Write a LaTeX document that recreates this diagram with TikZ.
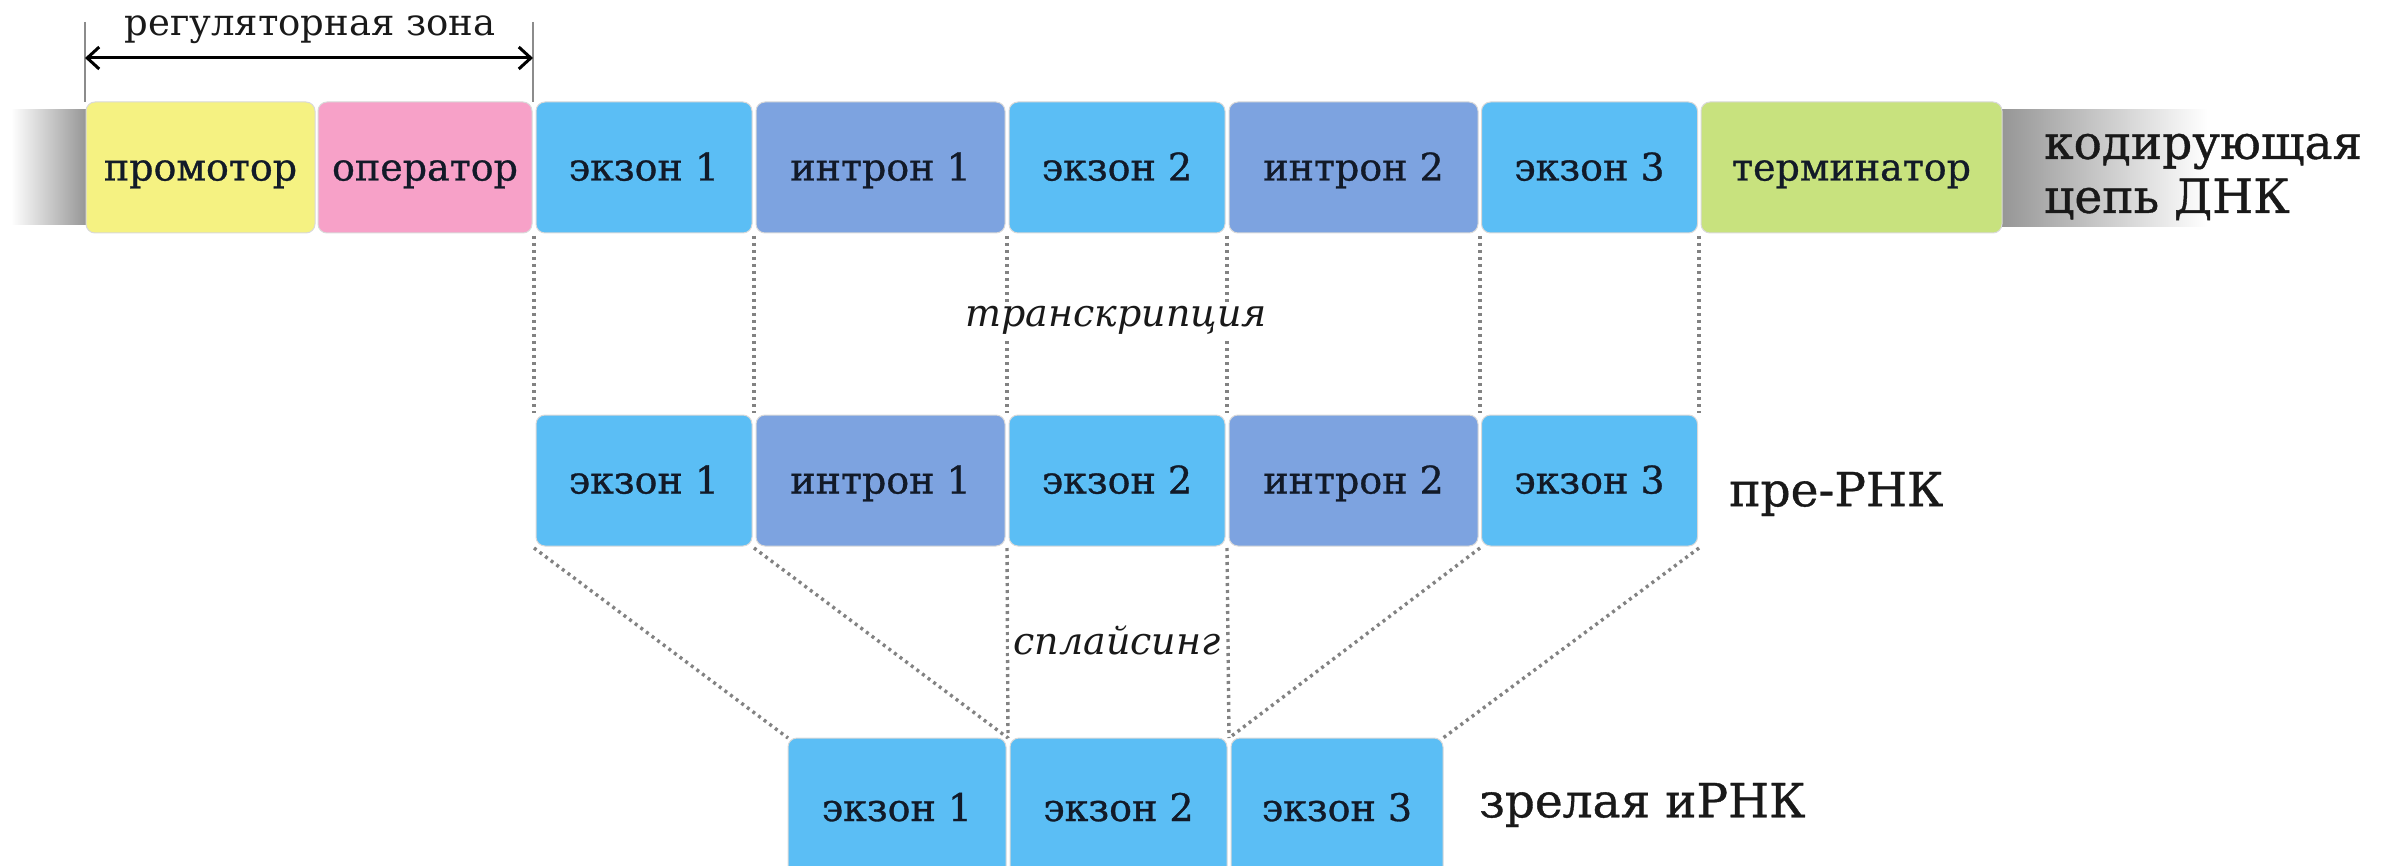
\documentclass[tikz,border=0pt]{standalone}
\usepackage{fontspec}
\setmainfont{DejaVu Serif}
\newfontfamily\heavyserif[FakeBold=0.8]{DejaVu Serif}
\usetikzlibrary{arrows.meta,calc}
\definecolor{promc}{RGB}{245,242,130}
\definecolor{operc}{RGB}{247,161,200}
\definecolor{exonc}{RGB}{91,190,245}
\definecolor{intronc}{RGB}{125,163,224}
\definecolor{termc}{RGB}{200,226,126}
\definecolor{boxtext}{RGB}{18,26,40}
\definecolor{labeltext}{RGB}{25,25,25}
\definecolor{dotc}{RGB}{130,130,130}
\definecolor{chaing}{RGB}{150,150,150}
\tikzset{
  seg/.style={draw=black!15, line width=1pt, rounded corners=9pt, inner sep=0pt, outer sep=0pt,
    minimum height=131pt, text=boxtext, font=\heavyserif\fontsize{38}{44}\selectfont,
    text height=30pt, text depth=4pt},
  exonbox/.style={seg, fill=exonc, minimum width=216pt},
  intronbox/.style={seg, fill=intronc, minimum width=249pt},
  dotline/.style={draw=dotc, line width=3.4pt, dash pattern=on 3pt off 4pt},
  sidelabel/.style={anchor=west, text=labeltext, font=\heavyserif\fontsize{47}{54}\selectfont, align=left, inner sep=0pt},
  steplabel/.style={fill=white, inner sep=4pt, text=labeltext, font=\fontsize{38}{44}\selectfont\itshape},
}
\begin{document}
\begin{tikzpicture}[x=1pt,y=-1pt]
\useasboundingbox (0,0) rectangle (2389,866);
% grey chain ends
\shade[left color=white, right color=chaing] (11,110) rectangle (86,225);
\shade[left color=chaing, right color=white] (2002,110) rectangle (2207,227);
% top row
\node[seg, fill=promc, minimum width=229pt] (prom) at (200.5,167.5) {промотор};
\node[seg, fill=operc, minimum width=214pt] (oper) at (425,167.5) {оператор};
\node[exonbox] (tex1) at (644,167.5) {экзон 1};
\node[intronbox] (tin1) at (880.5,167.5) {интрон 1};
\node[exonbox] (tex2) at (1117,167.5) {экзон 2};
\node[intronbox] (tin2) at (1353.5,167.5) {интрон 2};
\node[exonbox] (tex3) at (1589.5,167.5) {экзон 3};
\node[seg, fill=termc, minimum width=301pt] (term) at (1851.5,167.5) {терминатор};
\node[sidelabel] (dna) at (2044,177) {кодирующая\\цепь ДНК};
% regulatory zone
\coordinate (rl) at (85,22);
\coordinate (rr) at (533,22);
\draw[black!45, line width=1.5pt] (rl) -- (prom.north west -| rl);
\draw[black!45, line width=1.5pt] (rr) -- (oper.north east -| rr);
\draw[{Straight Barb[length=12pt,width=22pt]}-{Straight Barb[length=12pt,width=22pt]}, line width=3pt] (85,58) -- (533,58);
\node[text=labeltext, font=\fontsize{37}{42}\selectfont] (reg) at (310,30) {регуляторная зона};
% middle row
\node[exonbox] (mex1) at (644,480.5) {экзон 1};
\node[intronbox] (min1) at (880.5,480.5) {интрон 1};
\node[exonbox] (mex2) at (1117,480.5) {экзон 2};
\node[intronbox] (min2) at (1353.5,480.5) {интрон 2};
\node[exonbox] (mex3) at (1589.5,480.5) {экзон 3};
\node[sidelabel] (pre) at (1729,494) {пре-РНК};
% bottom row
\node[seg, fill=exonc, minimum width=218pt, minimum height=140pt] (bex1) at (897,808) {экзон 1};
\node[seg, fill=exonc, minimum width=217pt, minimum height=140pt] (bex2) at (1118.5,808) {экзон 2};
\node[seg, fill=exonc, minimum width=212pt, minimum height=140pt] (bex3) at (1337,808) {экзон 3};
\node[sidelabel] (mat) at (1479,805) {зрелая иРНК};
% gap coordinates
\foreach \n/\x in {1/534,2/754,3/1007,4/1227,5/1480,6/1699}{
  \coordinate (ta\n) at (\x,236);
  \coordinate (ma\n) at (\x,413);
  \coordinate (mb\n) at (\x,548);
}
\coordinate (ba1) at (788,738);
\coordinate (ba2) at (1008,738);
\coordinate (ba3) at (1229,738);
\coordinate (ba4) at (1443,738);
% transcription lines
\foreach \n in {1,...,6}{\draw[dotline] (ta\n) -- (ma\n);}
% splicing lines
\draw[dotline] (mb1) -- (ba1);
\draw[dotline] (mb2) -- (ba2);
\draw[dotline] (mb3) -- (ba2);
\draw[dotline] (mb4) -- (ba3);
\draw[dotline] (mb5) -- (ba3);
\draw[dotline] (mb6) -- (ba4);
\node[steplabel] (tr) at (1116,320) {транскрипция};
\node[steplabel] (spl) at (1117,640) {сплайсинг};
\end{tikzpicture}
\end{document}
